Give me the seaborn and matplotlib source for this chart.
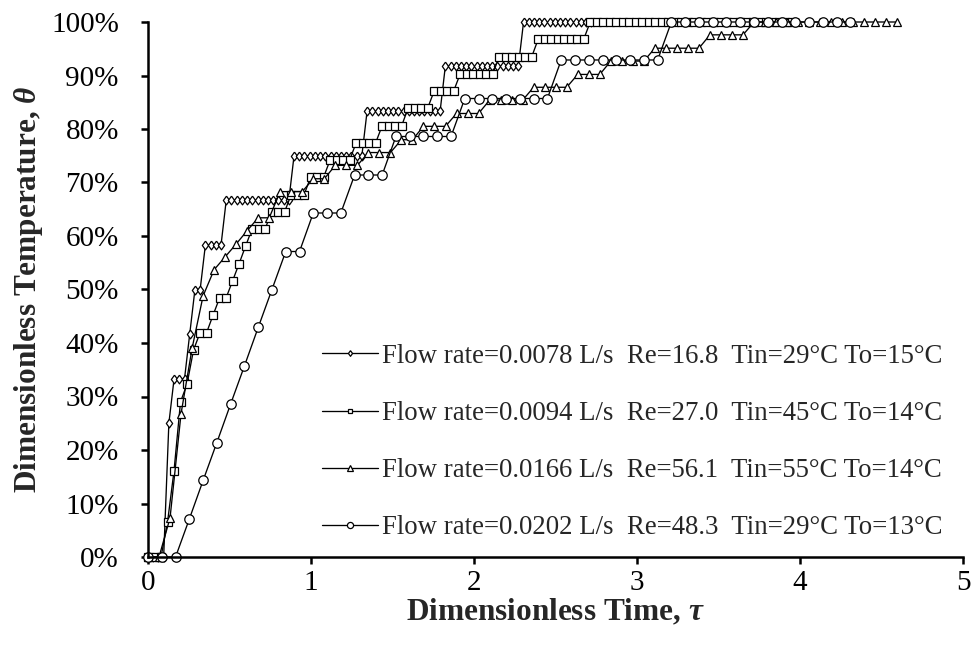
import numpy as np
import pandas as pd
import matplotlib
matplotlib.use("Agg")
import matplotlib.pyplot as plt
import seaborn as sns
from matplotlib.ticker import PercentFormatter, MultipleLocator

# ---------------- data ----------------
# Each series: sampling step in tau, plateau levels (theta, %) and number of samples on each plateau
diamond_step = 0.0320
diamond_pct = [0, 25.0, 33.3, 41.7, 50.0, 58.3, 66.7, 75.0, 83.3, 91.7, 100]
diamond_counts = [4, 1, 3, 1, 2, 4, 13, 14, 15, 15, 14]

square_step = 0.0399
square_pct = [0, 6.5, 16.1, 29.0, 32.3, 38.7, 41.9, 45.2, 48.4, 51.6, 54.8, 58.1, 61.3,
              64.5, 67.7, 71.0, 74.2, 77.4, 80.6, 83.9, 87.1, 90.3, 93.5, 96.8, 100]
square_counts = [3, 1, 1, 1, 1, 1, 2, 1, 2, 1, 1, 1, 3, 3, 3, 3, 4, 4, 4, 4, 4, 6, 6, 8, 32]

triangle_step = 0.0676
triangle_pct = [0, 7.3, 26.8, 39.0, 48.8, 53.7, 56.1, 58.5, 61.0, 63.4, 68.3, 70.7, 73.2,
                75.6, 78.0, 80.5, 82.9, 85.4, 87.8, 90.2, 92.7, 95.1, 97.6, 100]
triangle_counts = [2, 1, 1, 1, 1, 1, 1, 1, 1, 2, 3, 2, 3, 3, 2, 3, 3, 4, 4, 3, 4, 5, 4, 14]

circle_step = 0.0845
circle_pct = [0, 7.1, 14.3, 21.4, 28.6, 35.7, 42.9, 50.0, 57.1, 64.3, 71.4, 78.6, 85.7, 92.9, 100]
circle_counts = [3, 1, 1, 1, 1, 1, 1, 1, 2, 3, 3, 5, 7, 8, 14]

series_labels = [
    "Flow rate=0.0078 L/s  Re=16.8  Tin=29\u00b0C To=15\u00b0C",
    "Flow rate=0.0094 L/s  Re=27.0  Tin=45\u00b0C To=14\u00b0C",
    "Flow rate=0.0166 L/s  Re=56.1  Tin=55\u00b0C To=14\u00b0C",
    "Flow rate=0.0202 L/s  Re=48.3  Tin=29\u00b0C To=13\u00b0C",
]
x_ticks = [0, 1, 2, 3, 4, 5]

# ---------------- style ----------------
sns.set_theme(style="ticks")
plt.rcParams['font.family'] = ['Liberation Serif', 'DejaVu Serif']
plt.rcParams['mathtext.fontset'] = 'custom'
plt.rcParams['mathtext.it'] = 'Liberation Serif:italic:bold'
plt.rcParams['mathtext.rm'] = 'Liberation Serif:bold'
plt.rcParams['mathtext.bf'] = 'Liberation Serif:bold'

fig = plt.figure(figsize=(9.78, 6.57), dpi=100)
ax = fig.add_axes([148 / 978, 1 - 557 / 657, (963 - 148) / 978, (557 - 22) / 657])

diamond_marker = [(0, 1), (0.72, 0), (0, -1), (-0.72, 0), (0, 1)]

series = [
    (diamond_step, diamond_pct, diamond_counts, diamond_marker, 6.3),
    (square_step, square_pct, square_counts, 's', 5.5),
    (triangle_step, triangle_pct, triangle_counts, '^', 5.8),
    (circle_step, circle_pct, circle_counts, 'o', 6.8),
]

for (step, pct, counts, mk, ms), lab in zip(series, series_labels):
    y = np.repeat(np.array(pct) / 100.0, counts)
    x = np.arange(len(y)) * step
    df = pd.DataFrame({"tau": x, "theta": y})
    sns.lineplot(data=df, x="tau", y="theta", ax=ax, color="black", marker=mk,
                 markersize=ms, markerfacecolor="white", markeredgecolor="black",
                 markeredgewidth=0.9, linewidth=0.95, label=lab,
                 estimator=None, sort=False, clip_on=False)

ax.set_xlim(0, 5)
ax.set_ylim(0, 1)
ax.xaxis.set_major_locator(MultipleLocator(1))
ax.yaxis.set_major_locator(MultipleLocator(0.1))
ax.yaxis.set_major_formatter(PercentFormatter(1.0, decimals=0))
ax.set_xticks(x_ticks)

sns.despine(ax=ax)
for s in ("left", "bottom"):
    ax.spines[s].set_linewidth(1.8)
    ax.spines[s].set_color("black")
ax.tick_params(axis="both", direction="out", length=5, width=1.8, colors="black",
               labelsize=21)
ax.tick_params(axis="y", pad=16)
ax.tick_params(axis="x", pad=4)

ax.set_xlabel("Dimensionless Time, $\\tau$", fontsize=22.5, fontweight="bold", labelpad=1)
ax.set_ylabel("Dimensionless Temperature, $\\theta$", fontsize=22.5, fontweight="bold", labelpad=4)

leg = ax.legend(loc="center right", bbox_to_anchor=(0.975, 0.215), frameon=False,
                fontsize=19.3, handlelength=2.1, handletextpad=0.15, labelspacing=1.2,
                markerscale=0.65, borderpad=0, borderaxespad=0)

fig.savefig("out.png", dpi=100)
